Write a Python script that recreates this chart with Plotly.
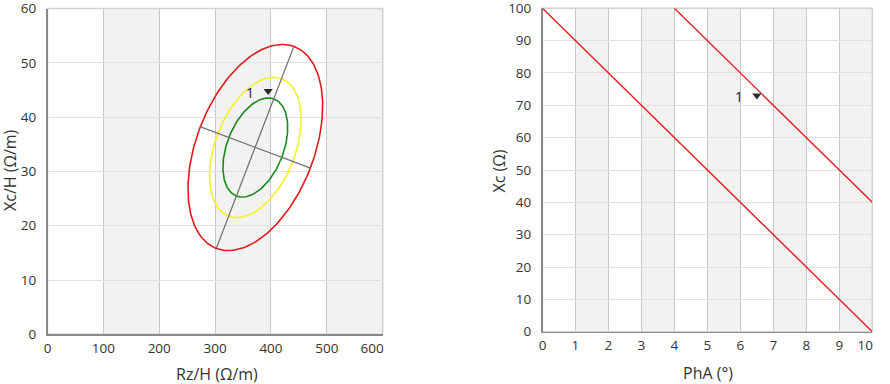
import numpy as np
import plotly.graph_objects as go

# ---------------- data ----------------
# Left chart: RXc graph (Rz/H vs Xc/H) tolerance ellipses
ellipse_center_rz = 372.0
ellipse_center_xc = 34.4
major_axis_rz = [302.0, 441.0]
major_axis_xc = [15.8, 53.0]
minor_axis_rz = [274.0, 471.0]
minor_axis_xc = [38.2, 30.6]
ellipse_levels = [0.95, 0.75, 0.50]
ellipse_colors = ["#e31a1c", "#f2f22a", "#1a8a1a"]

point_rz = [395.0]
point_xc_h = [44.8]
point_labels = ["1"]

left_x_ticks = [0, 100, 200, 300, 400, 500, 600]
left_y_ticks = [0, 10, 20, 30, 40, 50, 60]
left_bands = [(100, 200), (300, 400), (500, 600)]

# Right chart: PhA vs Xc
line_a_pha = [0.0, 10.0]
line_a_xc = [100.0, 0.0]
line_b_pha = [4.0, 10.0]
line_b_xc = [100.0, 40.0]

point_pha = [6.5]
point_xc = [73.0]

right_x_ticks = [0, 1, 2, 3, 4, 5, 6, 7, 8, 9, 10]
right_y_ticks = [0, 10, 20, 30, 40, 50, 60, 70, 80, 90, 100]
right_bands = [(1, 2), (3, 4), (5, 6), (7, 8), (9, 10)]

# ---------------- figure ----------------
FONT = "Open Sans, Noto Sans, sans-serif"
TXT = "#333333"
fig = go.Figure()

# ellipse geometry (95% ellipse passes through axis endpoints; others scaled by chi2 ratio)
half_major = np.array([(major_axis_rz[1] - major_axis_rz[0]) / 2, (major_axis_xc[1] - major_axis_xc[0]) / 2])
half_minor = np.array([(minor_axis_rz[1] - minor_axis_rz[0]) / 2, (minor_axis_xc[1] - minor_axis_xc[0]) / 2])
t = np.linspace(0, 2 * np.pi, 240)
ref = np.sqrt(-2 * np.log(1 - ellipse_levels[0]))
for lvl, col in zip(ellipse_levels, ellipse_colors):
    k = np.sqrt(-2 * np.log(1 - lvl)) / ref
    ex = ellipse_center_rz + k * (np.cos(t) * half_major[0] + np.sin(t) * half_minor[0])
    ey = ellipse_center_xc + k * (np.cos(t) * half_major[1] + np.sin(t) * half_minor[1])
    fig.add_trace(go.Scatter(x=ex, y=ey, mode="lines", line=dict(color=col, width=1.6),
                             hoverinfo="skip", showlegend=False, xaxis="x", yaxis="y"))

fig.add_trace(go.Scatter(x=major_axis_rz, y=major_axis_xc, mode="lines",
                         line=dict(color="#707070", width=1.2), showlegend=False, xaxis="x", yaxis="y"))
fig.add_trace(go.Scatter(x=minor_axis_rz, y=minor_axis_xc, mode="lines",
                         line=dict(color="#707070", width=1.2), showlegend=False, xaxis="x", yaxis="y"))
fig.add_trace(go.Scatter(x=point_rz, y=point_xc_h, mode="markers",
                         marker=dict(symbol="triangle-down", size=8, color="#2a2a2a"),
                         showlegend=False, xaxis="x", yaxis="y"))

fig.add_trace(go.Scatter(x=line_a_pha, y=line_a_xc, mode="lines", line=dict(color="#e31a1c", width=1.4),
                         showlegend=False, xaxis="x2", yaxis="y2"))
fig.add_trace(go.Scatter(x=line_b_pha, y=line_b_xc, mode="lines", line=dict(color="#e31a1c", width=1.4),
                         showlegend=False, xaxis="x2", yaxis="y2"))
fig.add_trace(go.Scatter(x=point_pha, y=point_xc, mode="markers",
                         marker=dict(symbol="triangle-down", size=8, color="#2a2a2a"),
                         showlegend=False, xaxis="x2", yaxis="y2"))

shapes = []
for a, b in left_bands:
    shapes.append(dict(type="rect", xref="x", yref="y domain", x0=a, x1=b, y0=0, y1=1,
                       fillcolor="#f2f2f2", line=dict(width=0), layer="below"))
for a, b in right_bands:
    shapes.append(dict(type="rect", xref="x2", yref="y2 domain", x0=a, x1=b, y0=0, y1=1,
                       fillcolor="#f2f2f2", line=dict(width=0), layer="below"))
for xr, yr in (("x", "y"), ("x2", "y2")):
    shapes.append(dict(type="rect", xref=xr + " domain", yref=yr + " domain", x0=0, x1=1, y0=0, y1=1,
                       line=dict(color="#d2d2d2", width=1.5), layer="below"))
fig.update_layout(shapes=shapes)


def edge_labels(ticks, last_pad):
    txt = [str(v) for v in ticks]
    txt[-1] = txt[-1] + "\u00a0" * last_pad
    return txt


axis_common = dict(showline=True, linecolor="#8a8a8a", linewidth=1.5, zeroline=False, automargin=False,
                   ticks="outside", tickcolor="rgba(0,0,0,0)", ticklabeloverflow="allow",
                   tickfont=dict(family=FONT, size=13.5, color=TXT), fixedrange=True)

fig.update_layout(
    template="none",
    width=890, height=384,
    margin=dict(l=0, r=0, t=0, b=0, pad=0),
    paper_bgcolor="white", plot_bgcolor="white",
    font=dict(family=FONT, color=TXT),
    hovermode=False,
    xaxis=dict(domain=[47.5 / 890, 382.7 / 890], range=[0, 600], anchor="y", ticklen=1,
               tickvals=left_x_ticks, ticktext=edge_labels(left_x_ticks, 6),
               showgrid=True, gridcolor="#c8c8c8", gridwidth=1, **axis_common),
    yaxis=dict(domain=[1 - 334.3 / 384, 1 - 8.5 / 384], range=[0, 60], anchor="x", ticklen=7,
               tickvals=left_y_ticks, showgrid=True, gridcolor="#e0e0e0", gridwidth=1, **axis_common),
    xaxis2=dict(domain=[542.5 / 890, 872.3 / 890], range=[0, 10], anchor="y2", ticklen=1,
                tickvals=right_x_ticks, ticktext=edge_labels(right_x_ticks, 4),
                showgrid=True, gridcolor="#c8c8c8", gridwidth=1, **axis_common),
    yaxis2=dict(domain=[1 - 331.7 / 384, 1 - 8.3 / 384], range=[0, 100], anchor="x2", ticklen=7,
                tickvals=right_y_ticks, showgrid=True, gridcolor="#e0e0e0", gridwidth=1, **axis_common),
)

annotations = [
    dict(text="Rz/H (Ω/m)", x=216.7 / 890, y=1 - 374 / 384, xref="paper", yref="paper",
         showarrow=False, xanchor="center", yanchor="middle", font=dict(family=FONT, size=16, color=TXT)),
    dict(text="Xc/H (Ω/m)", x=9.5 / 890, y=1 - 170.5 / 384, xref="paper", yref="paper", textangle=-90,
         showarrow=False, xanchor="center", yanchor="middle", font=dict(family=FONT, size=16, color=TXT)),
    dict(text="Xc (Ω)", x=498.5 / 890, y=1 - 171 / 384, xref="paper", yref="paper", textangle=-90,
         showarrow=False, xanchor="center", yanchor="middle", font=dict(family=FONT, size=16, color=TXT)),
    dict(text="PhA (°)", x=708 / 890, y=1 - 373 / 384, xref="paper", yref="paper",
         showarrow=False, xanchor="center", yanchor="middle", font=dict(family=FONT, size=16, color=TXT)),
]
for x, y, lab in zip(point_rz, point_xc_h, point_labels):
    annotations.append(dict(text=lab, x=x, y=y, xref="x", yref="y", xshift=-18, yshift=-1, showarrow=False,
                            font=dict(family=FONT, size=14, color="#222222")))
for x, y, lab in zip(point_pha, point_xc, point_labels):
    annotations.append(dict(text=lab, x=x, y=y, xref="x2", yref="y2", xshift=-18, yshift=-1, showarrow=False,
                            font=dict(family=FONT, size=14, color="#222222")))
fig.update_layout(annotations=annotations)

fig.write_html("out.html", config={"displayModeBar": False, "staticPlot": True},
               post_script="document.body.style.margin='0';document.body.style.padding='0';"
                           "document.body.style.overflow='hidden';")
